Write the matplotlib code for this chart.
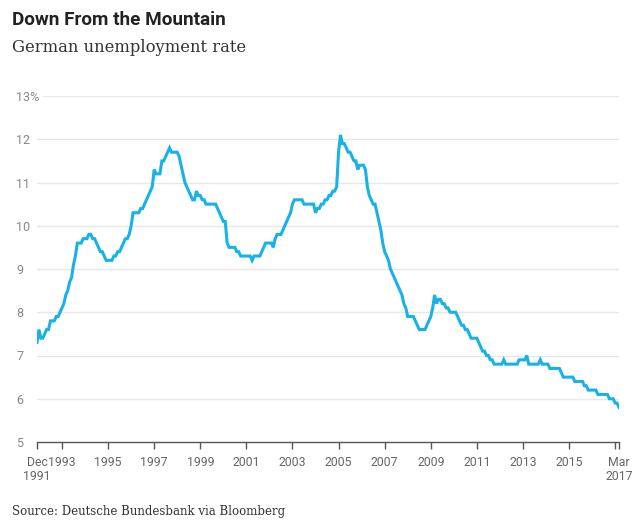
import numpy as np
import matplotlib
matplotlib.use("Agg")
import matplotlib.pyplot as plt

# monthly unemployment rate (%), Dec 1991 .. Mar 2017
rate_1991 = [7.3]
rate_1992 = [7.6, 7.4, 7.4, 7.5, 7.6, 7.6, 7.8, 7.8, 7.8, 7.9, 7.9, 8.0]
rate_1993 = [8.1, 8.2, 8.4, 8.5, 8.7, 8.8, 9.1, 9.3, 9.6, 9.6, 9.6, 9.7]
rate_1994 = [9.7, 9.7, 9.8, 9.8, 9.7, 9.7, 9.6, 9.5, 9.4, 9.4, 9.3, 9.2]
rate_1995 = [9.2, 9.2, 9.2, 9.3, 9.3, 9.4, 9.4, 9.5, 9.6, 9.7, 9.7, 9.8]
rate_1996 = [10.0, 10.3, 10.3, 10.3, 10.3, 10.4, 10.4, 10.5, 10.6, 10.7, 10.8, 10.9]
rate_1997 = [11.3, 11.2, 11.2, 11.2, 11.5, 11.5, 11.6, 11.7, 11.8, 11.7, 11.7, 11.7]
rate_1998 = [11.7, 11.6, 11.4, 11.2, 11.0, 10.9, 10.8, 10.7, 10.6, 10.6, 10.8, 10.7]
rate_1999 = [10.7, 10.6, 10.6, 10.5, 10.5, 10.5, 10.5, 10.5, 10.5, 10.4, 10.3, 10.2]
rate_2000 = [10.1, 10.1, 9.6, 9.5, 9.5, 9.5, 9.5, 9.4, 9.4, 9.3, 9.3, 9.3]
rate_2001 = [9.3, 9.3, 9.3, 9.2, 9.3, 9.3, 9.3, 9.3, 9.4, 9.5, 9.6, 9.6]
rate_2002 = [9.6, 9.6, 9.5, 9.7, 9.8, 9.8, 9.8, 9.9, 10.0, 10.1, 10.2, 10.3]
rate_2003 = [10.5, 10.6, 10.6, 10.6, 10.6, 10.6, 10.5, 10.5, 10.5, 10.5, 10.5, 10.5]
rate_2004 = [10.3, 10.4, 10.4, 10.5, 10.5, 10.6, 10.6, 10.7, 10.7, 10.8, 10.8, 10.9]
rate_2005 = [11.7, 12.1, 11.9, 11.9, 11.8, 11.7, 11.7, 11.6, 11.5, 11.5, 11.3, 11.4]
rate_2006 = [11.4, 11.4, 11.3, 10.9, 10.7, 10.6, 10.5, 10.5, 10.3, 10.1, 9.9, 9.6]
rate_2007 = [9.4, 9.3, 9.2, 9.0, 8.9, 8.8, 8.7, 8.6, 8.5, 8.4, 8.2, 8.1]
rate_2008 = [7.9, 7.9, 7.9, 7.9, 7.8, 7.7, 7.6, 7.6, 7.6, 7.6, 7.7, 7.8]
rate_2009 = [7.9, 8.1, 8.4, 8.2, 8.3, 8.3, 8.2, 8.2, 8.1, 8.1, 8.0, 8.0]
rate_2010 = [8.0, 8.0, 7.9, 7.8, 7.7, 7.7, 7.6, 7.6, 7.5, 7.4, 7.4, 7.4]
rate_2011 = [7.4, 7.3, 7.2, 7.1, 7.1, 7.0, 7.0, 6.9, 6.9, 6.8, 6.8, 6.8]
rate_2012 = [6.8, 6.8, 6.9, 6.8, 6.8, 6.8, 6.8, 6.8, 6.8, 6.8, 6.9, 6.9]
rate_2013 = [6.9, 6.9, 7.0, 6.8, 6.8, 6.8, 6.8, 6.8, 6.8, 6.9, 6.8, 6.8]
rate_2014 = [6.8, 6.8, 6.7, 6.7, 6.7, 6.7, 6.7, 6.7, 6.6, 6.5, 6.5, 6.5]
rate_2015 = [6.5, 6.5, 6.5, 6.4, 6.4, 6.4, 6.4, 6.4, 6.3, 6.3, 6.2, 6.2]
rate_2016 = [6.2, 6.2, 6.2, 6.1, 6.1, 6.1, 6.1, 6.1, 6.1, 6.0, 6.0, 6.0]
rate_2017 = [5.9, 5.9, 5.8]

rates = (rate_1991 + rate_1992 + rate_1993 + rate_1994 + rate_1995 + rate_1996
         + rate_1997 + rate_1998 + rate_1999 + rate_2000 + rate_2001 + rate_2002
         + rate_2003 + rate_2004 + rate_2005 + rate_2006 + rate_2007 + rate_2008
         + rate_2009 + rate_2010 + rate_2011 + rate_2012 + rate_2013 + rate_2014
         + rate_2015 + rate_2016 + rate_2017)
# decimal years, first point is Dec 1991
t = 1991 + (11 + np.arange(len(rates))) / 12

y_ticks = [5, 6, 7, 8, 9, 10, 11, 12, 13]
y_labels = ["5", "6", "7", "8", "9", "10", "11", "12", "13%"]
x_ticks = [1991 + 11/12, 1993, 1995, 1997, 1999, 2001, 2003, 2005, 2007,
           2009, 2011, 2013, 2015, 2017, 2017 + 2/12]
x_labels = ["Dec\n1991", "1993", "1995", "1997", "1999", "2001", "2003", "2005",
            "2007", "2009", "2011", "2013", "2015", "", "Mar\n2017"]

BLUE = "#19b2e6"
GRID = "#e8e8e8"
AXC = "#666666"

fig = plt.figure(figsize=(6.4, 5.26), dpi=100)
ax = fig.add_axes([37/640, 1 - 442/526, (619 - 37)/640, (442 - 96)/526])

for v in y_ticks[1:]:
    x0 = 0.011 if v == 13 else 0
    ax.axhline(v, xmin=x0, xmax=1, color=GRID, lw=1, zorder=0)

ax.plot(t, rates, color=BLUE, lw=2.2, solid_joinstyle="miter", zorder=3)

ax.set_xlim(t[0], t[-1])
ax.set_ylim(5, 13)
for s in ["top", "right", "left"]:
    ax.spines[s].set_visible(False)
ax.spines["bottom"].set_color("#555555")
ax.spines["bottom"].set_linewidth(1)

ax.set_yticks(y_ticks)
ax.set_yticklabels(y_labels, fontfamily="Roboto", fontsize=9, color="#888888")
ax.tick_params(axis="y", length=0, pad=15)
for lb in ax.get_yticklabels():
    lb.set_horizontalalignment("left")

ax.set_xticks(x_ticks)
ax.set_xticklabels(x_labels, fontfamily="Roboto", fontsize=8.8, color=AXC,
                   linespacing=1.15)
ax.tick_params(axis="x", length=5, width=1, color="#555555", pad=5)
for lb in ax.get_xticklabels():
    lb.set_verticalalignment("top")

fig.text(12/640, 1 - 20/526, "Down From the Mountain", fontfamily="Roboto",
         fontweight="bold", fontsize=13.6, color="#222222", va="center", ha="left")
fig.text(12/640, 1 - 47/526, "German unemployment rate", fontfamily="DejaVu Serif",
         fontsize=11.8, color="#333333", va="center", ha="left")
fig.text(12/640, 1 - 511/526, "Source: Deutsche Bundesbank via Bloomberg",
         fontfamily="DejaVu Serif", fontsize=8.5, color="#333333",
         va="center", ha="left")

fig.savefig("out.png", dpi=100)
